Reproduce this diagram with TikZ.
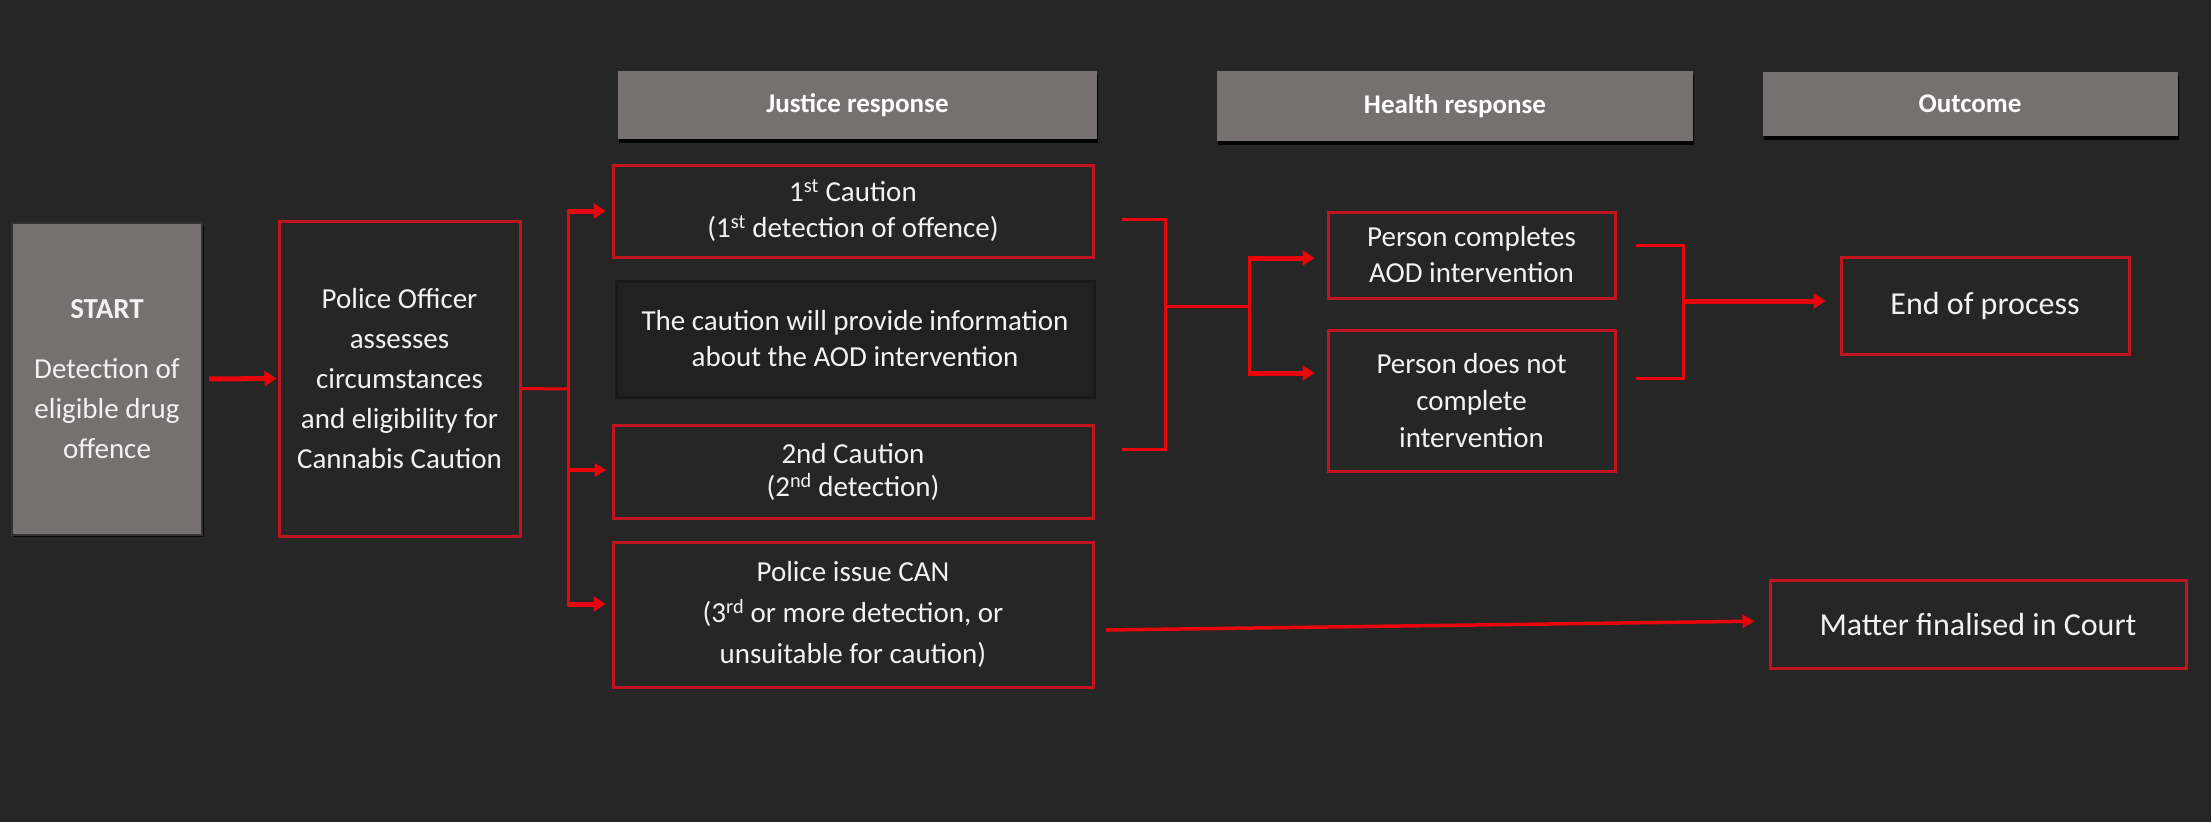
\documentclass[tikz,border=0pt]{standalone}
\usepackage{fontspec}
\setmainfont{Carlito}
\usetikzlibrary{arrows.meta,shadows}
\definecolor{bg}{HTML}{262626}
\definecolor{hgray}{HTML}{767171}
\definecolor{boxred}{RGB}{192,20,32}
\definecolor{arrred}{RGB}{232,6,12}
\definecolor{txt}{HTML}{F2F2F2}
\definecolor{infofill}{HTML}{212121}
\begin{document}
\begin{tikzpicture}[x=1pt,y=-1pt,
  redbox/.style={draw=boxred, line width=3pt, fill=bg, text=txt, align=center, inner sep=0pt},
  header/.style={fill=hgray, text=white, font=\bfseries\fontsize{27}{30}\selectfont, inner sep=0pt,
     drop shadow={shadow xshift=1pt, shadow yshift=-4pt, fill=black, opacity=0.9}},
  conn/.style={draw=arrred, line width=3pt},
  bigarrow/.style={draw=arrred, line width=5pt, -{Triangle[length=12pt,width=15pt]}},
  smallarrow/.style={draw=arrred, line width=3.5pt, -{Triangle[length=12pt,width=13pt]}},
  fs/.style={font=\fontsize{29}{#1}\selectfont}
]
\fill[bg] (0,0) rectangle (2211,822);
\useasboundingbox (0,0) rectangle (2211,822);

% headers
\node[header, minimum width=479pt, minimum height=68pt] (jh) at (857.5,105) {Justice response};
\node[header, minimum width=476pt, minimum height=70pt] (hh) at (1455,106) {Health response};
\node[header, minimum width=415pt, minimum height=64pt] (oh) at (1970,104) {Outcome};

% start
\node[fill=hgray, draw=black!80, line width=2pt, text=txt, align=center, inner sep=0pt,
      minimum width=190pt, minimum height=312pt, fs=40,
      drop shadow={shadow xshift=2pt, shadow yshift=-2pt, fill=black, opacity=0.8}]
  (start) at (107,379) {\textbf{START}\\[20pt]Detection of\\eligible drug\\offence};

\node[redbox, minimum width=241pt, minimum height=315pt, fs=40] (police) at (399.5,378.5)
  {Police Officer\\assesses\\circumstances\\and eligibility for\\Cannabis Caution};

% justice column
\node[redbox, minimum width=480pt, minimum height=92pt, fs=36] (c1) at (853,211)
  {1\textsuperscript{st} Caution\\(1\textsuperscript{st} detection of offence)};
\node[fill=infofill, draw=black!90, line width=3pt, text=txt, align=center, inner sep=0pt,
      minimum width=478pt, minimum height=116pt, fs=36,
      drop shadow={shadow xshift=1pt, shadow yshift=-2pt, fill=black, opacity=0.6}]
  (info) at (855,339) {The caution will provide information\\about the AOD intervention};
\node[redbox, minimum width=480pt, minimum height=93pt, fs=33] (c2) at (853,471.5)
  {2nd Caution\\(2\textsuperscript{nd} detection)};
\node[redbox, minimum width=480pt, minimum height=145pt, fs=41] (can) at (853,614.5)
  {Police issue CAN\\(3\textsuperscript{rd} or more detection, or\\unsuitable for caution)};

% health column
\node[redbox, minimum width=287pt, minimum height=86pt, fs=36] (pc) at (1471.5,255)
  {Person completes\\AOD intervention};
\node[redbox, minimum width=287pt, minimum height=141pt, fs=37] (pn) at (1471.5,400.5)
  {Person does not\\complete\\intervention};

% outcome
\node[redbox, minimum width=288pt, minimum height=97pt, font=\fontsize{32}{36}\selectfont] (endp) at (1985,305.5)
  {End of process};
\node[redbox, minimum width=416pt, minimum height=88pt, font=\fontsize{32}{36}\selectfont] (court) at (1978,624)
  {Matter finalised in Court};

% connectors: start -> police
\draw[bigarrow, shorten <=6pt, shorten >=1pt] (start.east) -- (police.west);

% police -> trunk
\coordinate (tk) at (568,389);
\coordinate (tkt) at (568,211);
\coordinate (tkm) at (568,470);
\coordinate (tkb) at (568,604);
\draw[conn] ([yshift=-10pt]police.east) -- (tk);
\draw[conn] ([yshift=1.5pt]tkt) -- ([yshift=-1.5pt]tkb);
\draw[bigarrow, shorten >=6pt] ([xshift=-1.5pt]tkt) -- (tkt -| c1.west);
\draw[smallarrow, shorten >=5pt] (tkm) -- (tkm -| c2.west);
\draw[bigarrow, shorten >=6pt] ([xshift=-1.5pt]tkb) -- (tkb -| can.west);

% left bracket
\coordinate (lb1) at (1122,219);
\coordinate (lb2) at (1165,219);
\coordinate (lb3) at (1165,449);
\coordinate (lb4) at (1122,449);
\coordinate (lbm) at (1165,306);
\coordinate (sp) at (1249,306);
\coordinate (spt) at (1249,258);
\coordinate (spb) at (1249,373);
\draw[conn] (lb1) -- (lb2) -- (lb3) -- (lb4);
\draw[conn] (lbm) -- (sp);
\draw[conn] ([yshift=1.5pt]spt) -- ([yshift=-1.5pt]spb);
\draw[bigarrow, shorten >=12pt] ([xshift=-1.5pt]spt) -- (spt -| pc.west);
\draw[bigarrow, shorten >=12pt] ([xshift=-1.5pt]spb) -- (spb -| pn.west);

% right bracket
\coordinate (rb1) at (1636,245);
\coordinate (rb2) at (1683,245);
\coordinate (rb3) at (1683,378);
\coordinate (rb4) at (1636,378);
\coordinate (rbm) at (1683,301);
\draw[conn] (rb1) -- (rb2) -- (rb3) -- (rb4);
\draw[bigarrow, shorten >=14pt] (rbm) -- (rbm -| endp.west);

% CAN -> court
\coordinate (canout) at (1106,630);
\draw[smallarrow, shorten >=14pt] (canout) -- ([yshift=3pt]court.west);
\end{tikzpicture}
\end{document}
